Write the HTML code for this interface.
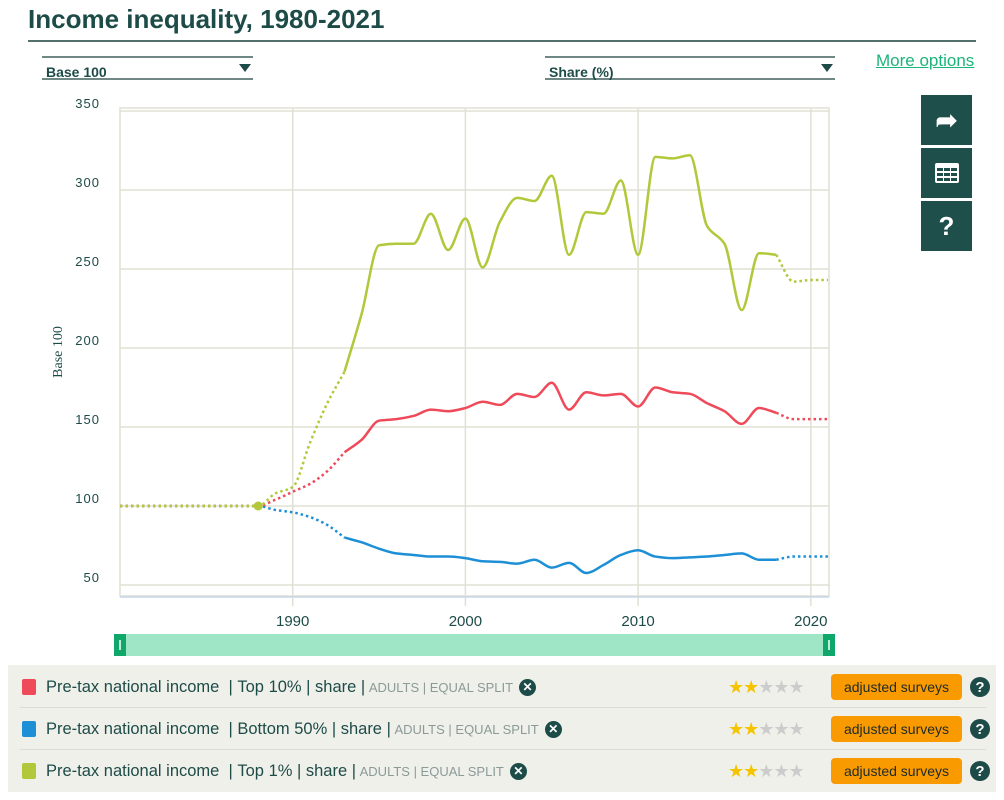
<!DOCTYPE html>
<html><head><meta charset="utf-8">
<style>
body{margin:0;width:1004px;height:800px;background:#fff;font-family:"Liberation Sans",sans-serif;overflow:hidden;position:relative}
.abs{position:absolute}
#title{left:28px;top:4px;font-size:26px;font-weight:bold;color:#1d4b48;letter-spacing:0px}
#title-rule{left:28px;top:40px;width:948px;height:2px;background:#53706d}
.dd{height:24px;border-top:2px solid #6f8886;border-bottom:2px solid #6f8886;font-size:14px;font-weight:bold;color:#1d4b48;line-height:28px;padding-left:4px;box-sizing:border-box}
.dd .arr{position:absolute;right:2px;top:6px;width:0;height:0;border-left:6px solid transparent;border-right:6px solid transparent;border-top:8px solid #1d4b48}
#more{left:876px;top:51px;font-size:17px;color:#1db47a;text-decoration:underline}
.btn{left:921px;width:51px;height:50px;background:#1e4f4b;color:#fff;display:flex;align-items:center;justify-content:center;font-size:26px;font-weight:bold}
#legend{left:8px;top:665px;width:988px;height:127px;background:#f0f0ea}
.row{position:absolute;left:14px;width:966px;height:42px;font-size:16.5px;color:#1d4b48;display:flex;align-items:center}
.sw{width:14px;height:16px;border-radius:2px;margin-right:10px}
.small{font-size:13px;color:#8a9a98}
.x{display:inline-flex;width:17px;height:17px;border-radius:50%;background:#1d4b48;color:#fff;font-size:12px;font-weight:bold;align-items:center;justify-content:center;margin-left:6px}
.stars{position:absolute;left:706px;font-size:18px;letter-spacing:-1px}
.tag{position:absolute;left:809px;width:131px;height:26px;background:#f99a00;border-radius:4px;font-size:14px;color:#1d2b2a;display:flex;align-items:center;justify-content:center}
.q{position:absolute;left:948px;width:20px;height:20px;border-radius:50%;background:#1d4b48;color:#fff;font-weight:bold;font-size:15px;display:flex;align-items:center;justify-content:center}
.sep{position:absolute;left:12px;width:966px;height:1px;background:#dcdcd4}
</style></head><body>
<div id="title" class="abs">Income inequality, 1980-2021</div>
<div id="title-rule" class="abs"></div>
<div class="abs dd" style="left:42px;top:56px;width:211px">Base 100<span class="arr"></span></div>
<div class="abs dd" style="left:545px;top:56px;width:290px">Share (%)<span class="arr"></span></div>
<div id="more" class="abs">More options</div>
<div class="abs btn" style="top:95px">&#x27A6;</div>
<div class="abs btn" style="top:148px"><svg width="24" height="20"><rect x="0" y="0" width="24" height="20" rx="2" fill="#fff"/><g fill="#1e4f4b"><rect x="2" y="5" width="6" height="3"/><rect x="9" y="5" width="6" height="3"/><rect x="16" y="5" width="6" height="3"/><rect x="2" y="10" width="6" height="3"/><rect x="9" y="10" width="6" height="3"/><rect x="16" y="10" width="6" height="3"/><rect x="2" y="15" width="6" height="3"/><rect x="9" y="15" width="6" height="3"/><rect x="16" y="15" width="6" height="3"/></g></svg></div>
<div class="abs btn" style="top:201px">?</div>

<svg class="abs" style="left:0;top:0" width="1004" height="665" id="chart"></svg>

<div id="legend" class="abs">
 <div class="row" style="top:1px"><span class="sw" style="background:#ef4a5a"></span>Pre-tax national income &nbsp;|&nbsp;Top 10%&nbsp;|&nbsp;share&nbsp;|<span class="small">&nbsp;ADULTS&nbsp;|&nbsp;EQUAL SPLIT</span><span class="x">✕</span>
 <span class="stars"><span style="color:#f5c400">★★</span><span style="color:#ccc">★★★</span></span><span class="tag">adjusted surveys</span><span class="q">?</span></div>
 <div class="sep" style="top:42px"></div>
 <div class="row" style="top:43px"><span class="sw" style="background:#1d8fd6"></span>Pre-tax national income &nbsp;|&nbsp;Bottom 50%&nbsp;|&nbsp;share&nbsp;|<span class="small">&nbsp;ADULTS&nbsp;|&nbsp;EQUAL SPLIT</span><span class="x">✕</span>
 <span class="stars"><span style="color:#f5c400">★★</span><span style="color:#ccc">★★★</span></span><span class="tag">adjusted surveys</span><span class="q">?</span></div>
 <div class="sep" style="top:84px"></div>
 <div class="row" style="top:85px"><span class="sw" style="background:#b2c83a"></span>Pre-tax national income &nbsp;|&nbsp;Top 1%&nbsp;|&nbsp;share&nbsp;|<span class="small">&nbsp;ADULTS&nbsp;|&nbsp;EQUAL SPLIT</span><span class="x">✕</span>
 <span class="stars"><span style="color:#f5c400">★★</span><span style="color:#ccc">★★★</span></span><span class="tag">adjusted surveys</span><span class="q">?</span></div>
</div>

<script>
const years=[];for(let y=1980;y<=2021;y++)years.push(y);
const top10=[100,100,100,100,100,100,100,100,100,104,109,114,122,134,142,154,155,157,161,160,162,166,164,171,169,178,161,172,170,171,163,175,172,171,165,160,152,162,159,155,155,155];
const bottom50=[100,100,100,100,100,100,100,100,100,97.5,96,93,88,80,77,73,70,69,68,68,67,65,64.6,63.5,66,61,64,57.6,62.7,69,72,68,67,67.5,68,69,70,66,66,68,68,68];
const top1=[100,100,100,100,100,100,100,100,100,108,112,140,165,185,222,265,266,266,285,262,282,251,280,295,293,309,259,286,285,306,259,321,320,322,277,266,224,260,259,242,243,243];
const yTicks=[50,100,150,200,250,300,350];
const xTicks=[1990,2000,2010,2020];
const solidStart=1993, solidEnd=2018, baseYear=1988;

const NS="http://www.w3.org/2000/svg";
const svg=document.getElementById('chart');
const X0=120,X1=829;
const xs=y=>X0+(y-1980)*17.27;
const ys=v=>506-(v-100)*1.58;
function mk(t,a){const e=document.createElementNS(NS,t);for(const k in a)e.setAttribute(k,a[k]);svg.appendChild(e);return e;}
let e=mk('rect',{x:X0,y:108,width:X1-X0,height:488,fill:'#fff',stroke:'#e0e0d4','stroke-width':1.5});


yTicks.forEach(v=>{
 let g=mk('line',{x1:X0,x2:X1,y1:ys(v),y2:ys(v),stroke:'#e0e0d4','stroke-width':1.5});
 
 
 let t=mk('text',{x:100,y:ys(v)-3,'text-anchor':'end','font-size':'13','font-family':'Liberation Sans, sans-serif',fill:'#1d4b48','letter-spacing':'1'});
 t.textContent=v;
 
 
});
xTicks.forEach(v=>{
 let g=mk('line',{x1:xs(v),x2:xs(v),y1:108,y2:606,stroke:'#e0e0d4','stroke-width':1.5});
 
 
 let t=mk('text',{x:xs(v),y:626,'text-anchor':'middle','font-size':'15','font-family':'Liberation Sans, sans-serif',fill:'#1d4b48'});
 t.textContent=v;
 
 
});
e=mk('line',{x1:X0,x2:X1,y1:597,y2:597,stroke:'#c6d6ea','stroke-width':1.5});


e=mk('text',{x:0,y:0,transform:'translate(62,352) rotate(-90)','text-anchor':'middle','font-size':'14','font-family':'Liberation Serif, serif',fill:'#1d4b48'});
e.textContent='Base 100';



// monotone cubic (no overshoot)
function pathFor(vals,a,b){
 const p=[];for(let i=a;i<=b;i++)p.push([xs(years[i]),ys(vals[i])]);
 const n=p.length, m=[], dl=[];
 for(let i=0;i<n-1;i++)dl.push((p[i+1][1]-p[i][1])/(p[i+1][0]-p[i][0]));
 for(let i=0;i<n;i++){
  if(i===0)m.push(dl[0]);else if(i===n-1)m.push(dl[n-2]);
  else if(dl[i-1]*dl[i]<=0)m.push(0);
  else m.push(2/(1/dl[i-1]+1/dl[i]));
 }
 let d='M'+p[0][0]+','+p[0][1];
 for(let i=0;i<n-1;i++){
  const h=(p[i+1][0]-p[i][0])/3;
  d+=`C${p[i][0]+h},${p[i][1]+m[i]*h} ${p[i+1][0]-h},${p[i+1][1]-m[i+1]*h} ${p[i+1][0]},${p[i+1][1]}`;
 }
 return d;
}
const iS=years.indexOf(solidStart),iE=years.indexOf(solidEnd),iN=years.length-1;
[[bottom50,'#1d8fd6','bottom-50'],[top10,'#ef4a5a','top-10'],[top1,'#b2c83a','top-1']].forEach(([vals,c,n])=>{
 let a=mk('path',{d:pathFor(vals,0,iS),fill:'none',stroke:c,'stroke-width':2.5,'stroke-dasharray':'2.5,3'});
 
 
 let b=mk('path',{d:pathFor(vals,iS,iE),fill:'none',stroke:c,'stroke-width':2.5});
 
 
 let d2=mk('path',{d:pathFor(vals,iE,iN),fill:'none',stroke:c,'stroke-width':2.5,'stroke-dasharray':'2.5,3'});
 
 
});
const bi=years.indexOf(baseYear);
e=mk('circle',{cx:xs(baseYear),cy:ys(top1[bi]),r:4.5,fill:'#b2c83a'});


e=mk('rect',{x:114,y:634,width:721,height:22,fill:'#9fe6c6'});


[114,823].forEach((hx,k)=>{
 let h=mk('rect',{x:hx,y:634,width:12,height:22,fill:'#10a86a'});
 
 
 let l=mk('line',{x1:hx+6,x2:hx+6,y1:640,y2:650,stroke:'#fff','stroke-width':1.5});
 
 
});
</script>
</body></html>
